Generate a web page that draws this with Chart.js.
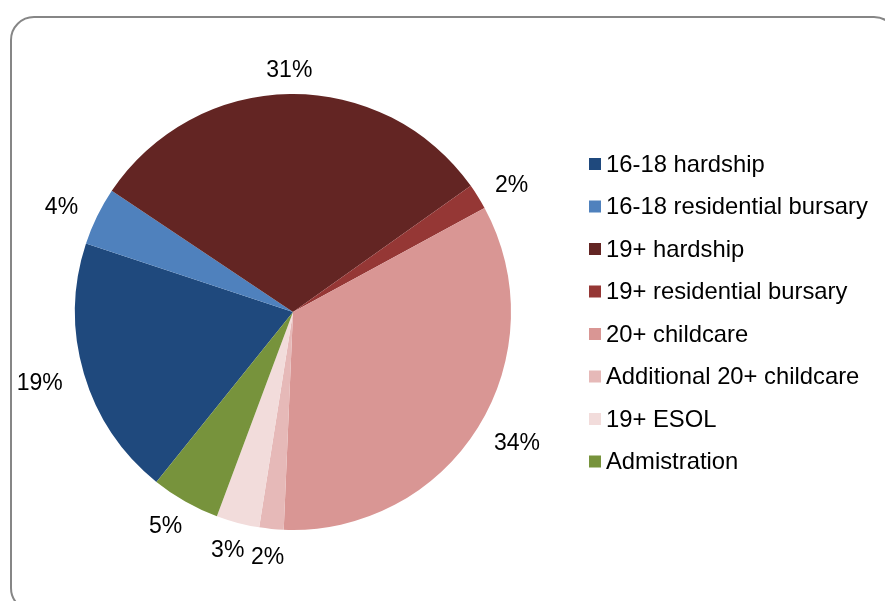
<!DOCTYPE html>
<html>
<head>
<meta charset="utf-8">
<script src="https://cdn.jsdelivr.net/npm/chart.js@4.4.1/dist/chart.umd.min.js"></script>
<style>
  html, body { margin: 0; padding: 0; background: #fff; overflow: hidden; }
  #wrap { position: relative; width: 885px; height: 601px; }
  #frame {
    position: absolute; left: 10px; top: 16px; width: 884px; height: 592px;
    border: 2px solid #868686; border-radius: 24px;
  }
  #c { position: absolute; left: 0; top: 0; }
</style>
</head>
<body>
<div id="wrap">
  <div id="frame"></div>
  <canvas id="c" width="885" height="601"></canvas>
</div>
<script>
// données (en %)
const categories = ['16-18 hardship', '16-18 residential bursary', '19+ hardship', '19+ residential bursary',
  '20+ childcare', 'Additional 20+ childcare', '19+ ESOL', 'Admistration'];
const shares = [19.3, 4.3, 30.8, 1.9, 33.6, 1.8, 3.2, 5.1];
const sliceColors = ['#1F497D', '#4F81BD', '#632523', '#953735', '#D99694', '#E6B9B8', '#F2DCDB', '#77933C'];

const FONT = '"Liberation Sans", Arial, sans-serif';

// étiquettes de pourcentage à l'extérieur du camembert
const outsideLabels = {
  id: 'outsideLabels',
  afterDatasetsDraw(chart) {
    const ctx = chart.ctx;
    const meta = chart.getDatasetMeta(0);
    const total = shares.reduce((a, b) => a + b, 0);
    ctx.save();
    ctx.font = '23px ' + FONT;
    ctx.fillStyle = '#000';
    ctx.textAlign = 'center';
    ctx.textBaseline = 'middle';
    meta.data.forEach((arc, i) => {
      const p = arc.getProps(['startAngle', 'endAngle', 'outerRadius', 'x', 'y'], true);
      const mid = (p.startAngle + p.endAngle) / 2;
      const cx = Math.cos(mid), cy = Math.sin(mid);
      const txt = Math.round(shares[i] / total * 100) + '%';
      const w = ctx.measureText(txt).width;
      // un peu plus d'écart sur les côtés qu'en haut/bas, comme Excel
      const x = p.x + cx * (p.outerRadius + 23 + w / 2);
      const y = p.y + cy * (p.outerRadius + 26);
      ctx.fillText(txt, x, y + 3);
    });
    ctx.restore();
  }
};

// légende dessinée à la main pour coller au placement d'origine
const sideLegend = {
  id: 'sideLegend',
  afterDraw(chart) {
    const ctx = chart.ctx;
    ctx.save();
    ctx.font = '23.8px ' + FONT;
    ctx.textBaseline = 'middle';
    categories.forEach((name, i) => {
      const y = 164 + i * 42.5;
      ctx.fillStyle = sliceColors[i];
      ctx.fillRect(589, y - 6, 12, 12);
      ctx.fillStyle = '#000';
      ctx.fillText(name, 606, y + 1);
    });
    ctx.restore();
  }
};

new Chart(document.getElementById('c'), {
  type: 'pie',
  data: {
    labels: categories,
    datasets: [{
      data: shares,
      backgroundColor: sliceColors,
      borderWidth: 0
    }]
  },
  options: {
    responsive: false,
    animation: false,
    rotation: 218.8,
    layout: { padding: { left: 75, top: 94, right: 374, bottom: 71 } },
    plugins: {
      legend: { display: false },
      tooltip: { enabled: false }
    }
  },
  plugins: [outsideLabels, sideLegend]
});
</script>
</body>
</html>
